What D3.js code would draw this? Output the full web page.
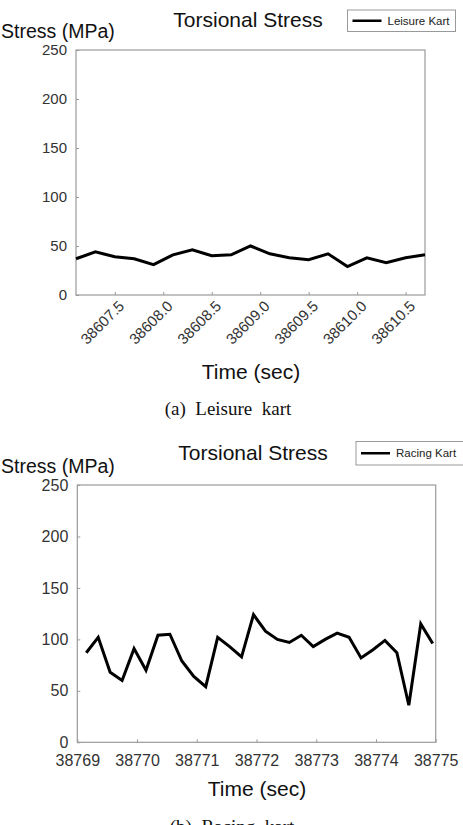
<!DOCTYPE html>
<html><head><meta charset="utf-8">
<script src="https://cdn.jsdelivr.net/npm/d3@7"></script>
<style>html,body{margin:0;padding:0;background:#fff;overflow:hidden}</style>
</head><body>
<svg id="c" width="463" height="825"></svg>
<script>
// ---- Data ----
const leisureTime = [38607.1,38607.3,38607.5,38607.7,38607.9,38608.1,38608.3,38608.5,38608.7,38608.9,38609.1,38609.3,38609.5,38609.7,38609.9,38610.1,38610.3,38610.5,38610.7];
const leisureStress = [37,44,39,37,31,41,46,40,41,50,42,38,36,42,29,38,33,38,41];
const leisureTicks = [38607.5,38608.0,38608.5,38609.0,38609.5,38610.0,38610.5];

const racingTime = [38769.15,38769.35,38769.55,38769.75,38769.95,38770.15,38770.35,38770.55,38770.75,38770.95,38771.15,38771.35,38771.55,38771.75,38771.95,38772.15,38772.35,38772.55,38772.75,38772.95,38773.15,38773.35,38773.55,38773.75,38773.95,38774.15,38774.35,38774.55,38774.75,38774.95];
const racingStress = [87,102,68,60,91,70,104,105,79,64,54,102,93,83,124,108,100,97,104,93,100,106,102,82,90,99,87,36,115,96];
const racingTicks = [38769,38770,38771,38772,38773,38774,38775];

const yTicks = [0,50,100,150,200,250];

const svg = d3.select("#c");
const SANS = "'Liberation Sans', Arial, sans-serif";
const SERIF = "'Liberation Serif', 'Times New Roman', serif";

function panel(o){
  const g = svg.append("g");
  const x = d3.scaleLinear().domain(o.xDomain).range([o.left, o.right]);
  const y = d3.scaleLinear().domain([0,250]).range([o.bottom, o.top]);
  // frame
  g.append("rect").attr("x", o.left).attr("y", o.top)
    .attr("width", o.right-o.left).attr("height", o.bottom-o.top)
    .attr("fill","none").attr("stroke","#9a9a9a").attr("stroke-width",1.2);
  // y axis
  const ya = d3.axisLeft(y).tickValues(yTicks).tickSize(-3).tickPadding(9).tickFormat(d3.format("d"));
  const yg = g.append("g").attr("transform",`translate(${o.left},0)`).call(ya);
  yg.select(".domain").remove();
  yg.selectAll("line").attr("stroke","#9a9a9a");
  yg.selectAll("text").attr("font-family",SANS).attr("font-size",o.tickFont).attr("fill","#333");
  // x axis
  const xa = d3.axisBottom(x).tickValues(o.xTicks).tickSize(-3).tickFormat(o.xFormat);
  const xg = g.append("g").attr("transform",`translate(0,${o.bottom})`).call(xa);
  xg.select(".domain").remove();
  xg.selectAll("line").attr("stroke","#9a9a9a");
  const xt = xg.selectAll("text").attr("font-family",SANS).attr("font-size",o.tickFont).attr("fill","#333");
  if(o.rotate){
    xt.attr("text-anchor","end").attr("dy",null).attr("y",0)
      .attr("transform","translate(10,12) rotate(-45)");
  } else {
    xt.attr("y",12);
  }
  // line
  const line = d3.line().x((d,i)=>x(o.xs[i])).y(d=>y(d));
  g.append("path").datum(o.ys).attr("d",line).attr("fill","none")
    .attr("stroke","#000").attr("stroke-width",3).attr("stroke-linejoin","miter");
  // titles
  g.append("text").attr("x",o.titleX).attr("y",o.titleY).attr("text-anchor","middle")
    .attr("font-family",SANS).attr("font-size",21).attr("fill","#111").text("Torsional Stress");
  g.append("text").attr("x",1).attr("y",o.ylabY)
    .attr("font-family",SANS).attr("font-size",19.5).attr("fill","#111").text("Stress (MPa)");
  g.append("text").attr("x",o.xlabX).attr("y",o.xlabY).attr("text-anchor","middle")
    .attr("font-family",SANS).attr("font-size",21).attr("fill","#111").text("Time (sec)");
  g.append("text").attr("x",o.capX).attr("y",o.capY).attr("text-anchor","middle")
    .attr("font-family",SERIF).attr("font-size",19).attr("fill","#111")
    .attr("xml:space","preserve").style("white-space","pre").text(o.caption);
  // legend
  const L = o.legend;
  g.append("rect").attr("x",L.x).attr("y",L.y).attr("width",L.w).attr("height",L.h)
    .attr("fill","#fff").attr("stroke","#999").attr("stroke-width",1);
  g.append("line").attr("x1",L.x+5).attr("x2",L.x+34).attr("y1",L.y+L.h/2).attr("y2",L.y+L.h/2)
    .attr("stroke","#000").attr("stroke-width",2.5);
  g.append("text").attr("x",L.x+40).attr("y",L.y+L.h/2+4)
    .attr("font-family",SANS).attr("font-size",11.5).attr("fill","#222").text(L.text);
}

panel({
  xDomain:[38607.1,38610.7], left:76, right:425, top:50, bottom:295,
  xTicks:leisureTicks, xFormat:d3.format(".1f"), rotate:true, tickFont:15,
  xs:leisureTime, ys:leisureStress,
  titleX:248, titleY:27, ylabY:38, xlabX:251, xlabY:379,
  capX:228, capY:415, caption:"(a)  Leisure  kart",
  legend:{x:347.5,y:10,w:108,h:21.5,text:"Leisure Kart"}
});
panel({
  xDomain:[38769,38775], left:77.3, right:435.7, top:485, bottom:742.3,
  xTicks:racingTicks, xFormat:d3.format("d"), rotate:false, tickFont:16,
  xs:racingTime, ys:racingStress,
  titleX:253, titleY:460, ylabY:473, xlabX:257, xlabY:796,
  capX:232, capY:833, caption:"(b)  Racing  kart",
  legend:{x:356,y:441.5,w:110,h:23.5,text:"Racing Kart"}
});
</script>
</body></html>
